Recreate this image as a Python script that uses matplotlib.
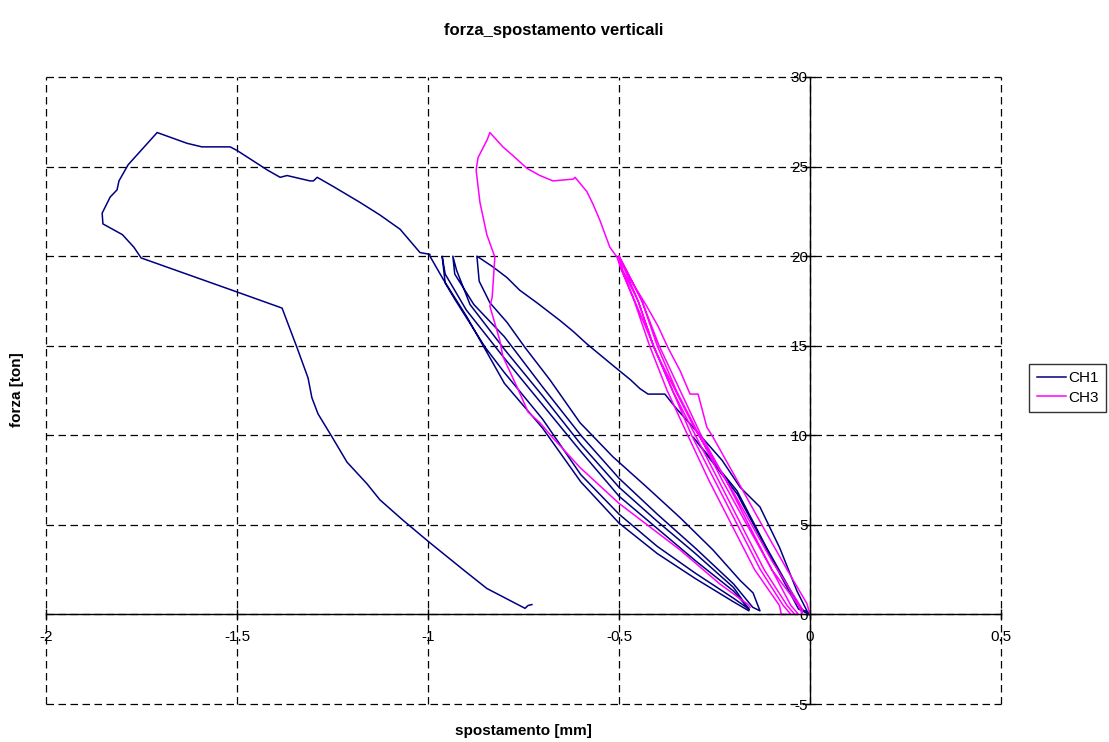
# forza / spostamento verticali - CH1 and CH3 load cycles

import matplotlib.pyplot as plt

plt.rcParams['font.family'] = ['Liberation Sans', 'DejaVu Sans']
plt.rcParams['axes.unicode_minus'] = False

# CH1 (navy): small first cycle, first loading, unload/reload cycles, failure branch
ch1_pre_x = [-0.005, -0.026, -0.113, -0.191, -0.306, -0.19, -0.11, -0.03, 0.0]
ch1_pre_y = [0.0, 0.4, 3.7, 6.9, 9.9, 6.7, 3.5, 0.3, 0.0]

ch1_load_x = [0.0, -0.008, -0.034, -0.079, -0.131, -0.183, -0.23, -0.30, -0.35, -0.38, -0.40, -0.424,
              -0.445, -0.47, -0.516, -0.55, -0.584, -0.62, -0.654, -0.715, -0.76, -0.793, -0.83, -0.872]
ch1_load_y = [0.0, 0.2, 1.3, 3.7, 6.0, 7.1, 8.6, 10.3, 11.5, 12.3, 12.3, 12.3,
              12.6, 13.1, 13.9, 14.5, 15.1, 15.8, 16.4, 17.4, 18.1, 18.8, 19.4, 20.0]

ch1_unload1_x = [-0.872, -0.866, -0.838, -0.793, -0.746, -0.681, -0.602, -0.516, -0.427, -0.34, -0.254, -0.183, -0.149, -0.131]
ch1_unload1_y = [20.0, 18.6, 17.4, 16.3, 14.9, 13.1, 10.7, 8.8, 7.1, 5.4, 3.6, 1.9, 1.2, 0.2]

ch1_reload2_x = [-0.15, -0.20, -0.30, -0.40, -0.50, -0.60, -0.70, -0.80, -0.88, -0.93, -0.935]
ch1_reload2_y = [0.4, 1.7, 3.7, 5.6, 7.6, 10.0, 12.7, 15.5, 17.3, 19.0, 20.0]

ch1_unload2_x = [-0.935, -0.925, -0.89, -0.80, -0.70, -0.60, -0.50, -0.40, -0.30, -0.20, -0.16]
ch1_unload2_y = [20.0, 19.2, 17.3, 14.8, 12.2, 9.5, 7.1, 5.2, 3.4, 1.5, 0.3]

ch1_reload3_x = [-0.16, -0.20, -0.30, -0.40, -0.50, -0.60, -0.70, -0.80, -0.90, -0.955, -0.963]
ch1_reload3_y = [0.3, 1.3, 3.0, 4.8, 6.6, 9.1, 11.7, 14.3, 17.0, 19.0, 20.0]

ch1_unload3_x = [-0.963, -0.955, -0.93, -0.85, -0.80, -0.70, -0.60, -0.50, -0.40, -0.30, -0.20, -0.16]
ch1_unload3_y = [20.0, 18.5, 17.6, 14.9, 13.5, 10.9, 7.8, 5.6, 3.8, 2.3, 0.9, 0.3]

ch1_reload4_x = [-0.16, -0.20, -0.30, -0.40, -0.50, -0.60, -0.70, -0.80, -0.898, -0.96, -0.995]
ch1_reload4_y = [0.2, 0.7, 2.0, 3.4, 5.1, 7.4, 10.4, 12.9, 16.6, 18.7, 20.0]

ch1_fail_x = [-0.995, -1.021, -1.073, -1.126, -1.178, -1.249, -1.29, -1.30, -1.309, -1.369, -1.387, -1.42,
              -1.5, -1.518, -1.563, -1.592, -1.631, -1.709, -1.785, -1.809, -1.814, -1.832, -1.853, -1.851,
              -1.80, -1.77, -1.751, -1.5, -1.382, -1.343, -1.314, -1.304, -1.288, -1.251, -1.212, -1.16,
              -1.126, -1.065, -0.995, -0.908, -0.846, -0.746, -0.738, -0.728]
ch1_fail_y = [20.1, 20.2, 21.5, 22.3, 23.0, 23.9, 24.4, 24.2, 24.2, 24.5, 24.4, 24.8,
              25.9, 26.1, 26.1, 26.1, 26.3, 26.9, 25.1, 24.2, 23.7, 23.3, 22.4, 21.8,
              21.2, 20.5, 19.9, 18.0, 17.1, 14.9, 13.2, 12.1, 11.2, 9.9, 8.5, 7.3,
              6.4, 5.25, 4.0, 2.5, 1.45, 0.34, 0.5, 0.55]

# CH3 (magenta): loading/unloading cycles up to 20 ton, then failure branch
ch3_load1_x = [0.0, -0.008, -0.06, -0.113, -0.191, -0.254, -0.27, -0.293, -0.314, -0.34, -0.372, -0.398, -0.43, -0.47, -0.5]
ch3_load1_y = [0.0, 0.6, 2.5, 4.5, 7.5, 9.9, 10.45, 12.3, 12.3, 13.6, 14.9, 16.1, 17.3, 18.7, 20.0]

ch3_unload1_x = [-0.5, -0.49, -0.45, -0.41, -0.36, -0.30, -0.24, -0.18, -0.12, -0.06, -0.04]
ch3_unload1_y = [20.0, 19.2, 17.5, 15.0, 12.5, 10.0, 7.5, 5.0, 2.5, 0.5, 0.0]

ch3_reload2_x = [-0.03, -0.05, -0.10, -0.16, -0.22, -0.285, -0.34, -0.395, -0.44, -0.5]
ch3_reload2_y = [0.0, 0.5, 2.5, 5.0, 7.5, 10.0, 12.5, 15.0, 17.5, 20.0]

ch3_unload2_x = [-0.5, -0.495, -0.46, -0.42, -0.374, -0.32, -0.265, -0.205, -0.145, -0.08, -0.075]
ch3_unload2_y = [20.0, 19.3, 17.5, 15.0, 12.5, 10.0, 7.5, 5.0, 2.5, 0.5, 0.0]

ch3_reload3_x = [-0.05, -0.07, -0.13, -0.19, -0.25, -0.31, -0.36, -0.41, -0.45, -0.5]
ch3_reload3_y = [0.0, 0.5, 2.5, 5.0, 7.5, 10.0, 12.5, 15.0, 17.5, 20.0]

ch3_unload3_x = [-0.5, -0.48, -0.44, -0.40, -0.35, -0.29, -0.23, -0.165, -0.10, -0.03, -0.02]
ch3_unload3_y = [20.0, 19.2, 17.5, 15.0, 12.5, 10.0, 7.5, 5.0, 2.5, 0.5, 0.0]

ch3_fail_x = [-0.02, -0.1, -0.2, -0.3, -0.4, -0.5, -0.505, -0.524, -0.55, -0.568, -0.584, -0.615, -0.62,
              -0.673, -0.707, -0.741, -0.777, -0.804, -0.838, -0.845, -0.869, -0.874, -0.864, -0.846,
              -0.825, -0.832, -0.838, -0.812, -0.804, -0.767, -0.738, -0.707, -0.675, -0.602, -0.5,
              -0.34, -0.236, -0.165, -0.157]
ch3_fail_y = [0.3, 3.0, 6.8, 10.3, 14.5, 19.6, 19.94, 20.5, 22.0, 22.9, 23.6, 24.4, 24.3,
              24.2, 24.5, 24.9, 25.6, 26.1, 26.9, 26.5, 25.5, 24.8, 23.0, 21.2,
              19.95, 17.7, 17.2, 15.3, 14.4, 12.7, 11.3, 10.7, 9.9, 8.2, 6.2,
              3.6, 1.7, 0.6, 0.4]

ch1_x = (ch1_pre_x + ch1_load_x + ch1_unload1_x + ch1_reload2_x + ch1_unload2_x
         + ch1_reload3_x + ch1_unload3_x + ch1_reload4_x + ch1_fail_x)
ch1_y = (ch1_pre_y + ch1_load_y + ch1_unload1_y + ch1_reload2_y + ch1_unload2_y
         + ch1_reload3_y + ch1_unload3_y + ch1_reload4_y + ch1_fail_y)
ch3_x = (ch3_load1_x + ch3_unload1_x + ch3_reload2_x + ch3_unload2_x
         + ch3_reload3_x + ch3_unload3_x + ch3_fail_x)
ch3_y = (ch3_load1_y + ch3_unload1_y + ch3_reload2_y + ch3_unload2_y
         + ch3_reload3_y + ch3_unload3_y + ch3_fail_y)

x_ticks = [-2, -1.5, -1, -0.5, 0, 0.5]
x_tick_labels = ['-2', '-1.5', '-1', '-0.5', '0', '0.5']
y_ticks = [-5, 0, 5, 10, 15, 20, 25, 30]

# Figure and axes placed like the Excel plot area
fig = plt.figure(figsize=(11.09, 7.42), dpi=100)
ax = fig.add_axes([46 / 1109, 1 - 704 / 742, 955 / 1109, 627 / 742])

ax.plot(ch1_x, ch1_y, color='#000080', lw=1.1, label='CH1')
ax.plot(ch3_x, ch3_y, color='#FF00FF', lw=1.1, label='CH3')

ax.set_xlim(-2, 0.5)
ax.set_ylim(-5, 30)
ax.set_xticks(x_ticks)
ax.set_xticklabels(x_tick_labels)
ax.set_yticks(y_ticks)

# Axes crossing at zero, no frame
ax.spines['left'].set_position(('data', 0))
ax.spines['bottom'].set_position(('data', 0))
ax.spines['top'].set_visible(False)
ax.spines['right'].set_visible(False)
for s in ['left', 'bottom']:
    ax.spines[s].set_linewidth(1.0)
    ax.spines[s].set_color('black')

ax.tick_params(axis='both', direction='inout', length=7, width=1.0, labelsize=11, colors='black')
ax.tick_params(axis='y', pad=-2)
ax.tick_params(axis='x', pad=8)

# Dashed gridlines, also the ones on the plot-area edges
ax.grid(True, color='black', linestyle=(0, (6, 3.6)), linewidth=0.9)
ax.set_axisbelow(True)
for gl in ax.get_xgridlines() + ax.get_ygridlines():
    gl.set_clip_on(False)

# Titles
fig.text(554 / 1109, 1 - 30 / 742, 'forza_spostamento verticali', ha='center', va='center',
         fontsize=12, fontweight='bold')
fig.text(523 / 1109, 1 - 731 / 742, 'spostamento [mm]', ha='center', va='center',
         fontsize=11, fontweight='bold')
fig.text(17 / 1109, 1 - 390 / 742, 'forza [ton]', ha='center', va='center', rotation=90,
         fontsize=11, fontweight='bold')

# Legend box on the right
leg = fig.legend(loc='center left', bbox_to_anchor=(1029 / 1109, 1 - 388 / 742), fontsize=11,
                 frameon=True, fancybox=False, shadow=False, handlelength=1.9, handletextpad=0.15,
                 borderpad=0.5, labelspacing=0.35, borderaxespad=0)
leg.get_frame().set_edgecolor('black')
leg.get_frame().set_linewidth(1.0)

fig.savefig('out.png', dpi=100)
plt.close()
